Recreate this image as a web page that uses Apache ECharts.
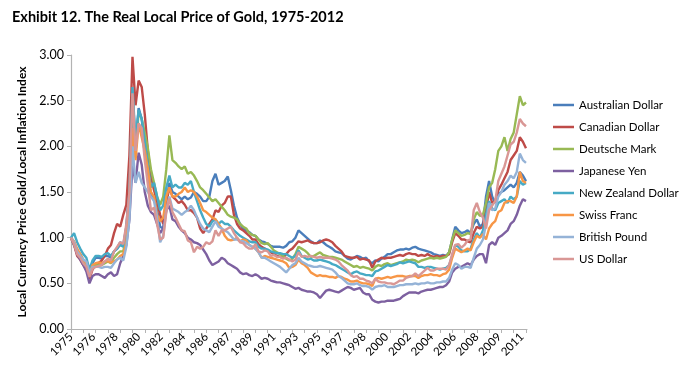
<!DOCTYPE html>
<html><head><meta charset="utf-8">
<script src="https://cdn.jsdelivr.net/npm/echarts@6/dist/echarts.min.js"></script>
<style>html,body{margin:0;padding:0;background:#fff}#c{width:680px;height:387px}</style>
</head><body><div id="c"></div>
<script>
const startYear = 1975;
const monthCount = 446;   // Jan 1975 .. Feb 2012 (monthly categories)
const sampleStep = 3;     // one read value every 3 months
const xTickLabels = ['1975','1976','1978','1980','1982','1984','1986','1987','1989','1991','1993','1995','1997','1998','2000','2002','2004','2006','2008','2009','2011'];
const yTickLabels = ['0.00','0.50','1.00','1.50','2.00','2.50','3.00'];
const seriesNames = ['Australian Dollar','Canadian Dollar','Deutsche Mark','Japanese Yen','New Zealand Dollar','Swiss Franc','British Pound','US Dollar'];

// quarterly readings, 1975 Q1 .. 2012 Q1
const australianDollar = [
1.00,0.95,0.86,0.82, 0.75,0.70,0.60,0.72, 0.78,0.78,0.77,0.80, 0.80,0.78,0.85,0.88, 0.95,0.92,1.12,1.55,
2.62,2.00,2.42,2.30, 2.00,1.70,1.45,1.45, 1.30,1.12,1.10,1.40, 1.60,1.50,1.48,1.45, 1.42,1.45,1.42,1.44,
1.50,1.48,1.45,1.40, 1.40,1.45,1.62,1.70, 1.58,1.60,1.62,1.67, 1.52,1.35,1.22,1.15, 1.10,1.08,1.06,1.03,
1.02,0.98,0.96,0.95, 0.93,0.91,0.90,0.90, 0.90,0.89,0.91,0.95, 0.96,1.00,1.08,1.05, 1.02,0.99,0.96,0.94,
0.94,0.97,0.95,0.92, 0.90,0.88,0.85,0.84, 0.83,0.80,0.77,0.76, 0.78,0.80,0.79,0.77, 0.78,0.74,0.72,0.75,
0.74,0.77,0.79,0.82, 0.82,0.84,0.86,0.87, 0.87,0.88,0.87,0.89, 0.90,0.88,0.87,0.86, 0.85,0.84,0.82,0.81,
0.80,0.81,0.80,0.84, 0.98,1.12,1.08,1.05, 1.06,1.08,1.05,1.15, 1.20,1.12,1.15,1.45, 1.62,1.45,1.38,1.48,
1.50,1.52,1.55,1.58, 1.55,1.60,1.72,1.68, 1.62];
const canadianDollar = [
1.00,0.92,0.80,0.76, 0.70,0.65,0.55,0.65, 0.70,0.72,0.75,0.80, 0.88,0.92,1.05,1.15, 1.12,1.25,1.36,1.90,
2.98,2.45,2.72,2.65, 2.35,1.95,1.68,1.52, 1.40,1.25,1.15,1.38, 1.55,1.45,1.42,1.38, 1.40,1.36,1.30,1.30,
1.27,1.22,1.10,1.05, 1.10,1.15,1.20,1.30, 1.28,1.35,1.38,1.45, 1.45,1.25,1.15,1.10, 1.08,1.05,1.02,0.98,
0.98,0.93,0.90,0.88, 0.86,0.84,0.82,0.80, 0.79,0.78,0.82,0.86, 0.88,0.92,0.96,0.95, 0.96,0.97,0.95,0.94,
0.94,0.95,0.97,0.98, 0.97,0.95,0.91,0.88, 0.85,0.80,0.79,0.78, 0.78,0.79,0.76,0.77, 0.76,0.75,0.67,0.74,
0.76,0.78,0.77,0.78, 0.78,0.79,0.80,0.81, 0.80,0.82,0.83,0.82, 0.82,0.80,0.81,0.80, 0.82,0.80,0.79,0.80,
0.79,0.80,0.80,0.82, 0.95,1.05,1.02,0.98, 0.98,0.96,0.95,1.05, 1.12,1.10,1.12,1.30, 1.50,1.38,1.40,1.52,
1.58,1.65,1.72,1.85, 1.90,1.95,2.10,2.05, 1.98];
const deutscheMark = [
1.00,0.92,0.85,0.80, 0.74,0.70,0.60,0.68, 0.70,0.70,0.70,0.72, 0.74,0.72,0.78,0.82, 0.85,0.85,1.02,1.40,
2.35,1.95,2.38,2.30, 2.15,1.98,1.75,1.60, 1.45,1.36,1.45,1.75, 2.12,1.85,1.82,1.78, 1.75,1.78,1.70,1.72,
1.68,1.62,1.55,1.52, 1.48,1.44,1.40,1.42, 1.38,1.34,1.30,1.25, 1.23,1.22,1.20,1.15, 1.12,1.10,1.05,1.03,
1.02,0.98,0.94,0.93, 0.94,0.90,0.86,0.84, 0.82,0.80,0.77,0.75, 0.77,0.82,0.90,0.88, 0.86,0.83,0.79,0.80,
0.82,0.84,0.81,0.80, 0.79,0.79,0.78,0.77, 0.76,0.74,0.72,0.70, 0.68,0.69,0.67,0.68, 0.67,0.66,0.64,0.68,
0.70,0.69,0.71,0.72, 0.70,0.71,0.72,0.73, 0.74,0.76,0.75,0.76, 0.75,0.73,0.75,0.76, 0.77,0.78,0.77,0.78,
0.77,0.78,0.79,0.84, 0.98,1.08,1.05,1.02, 1.03,1.05,1.04,1.20, 1.28,1.24,1.25,1.38, 1.55,1.60,1.75,1.95,
2.00,2.10,1.95,2.08, 2.15,2.35,2.55,2.45, 2.48];
const japaneseYen = [
1.00,0.92,0.82,0.76, 0.70,0.63,0.50,0.58, 0.60,0.60,0.58,0.56, 0.60,0.62,0.58,0.60, 0.72,0.80,0.92,1.20,
1.80,1.60,1.93,1.80, 1.50,1.35,1.28,1.25, 1.15,1.05,1.10,1.30, 1.35,1.20,1.18,1.12, 1.08,1.05,1.00,0.98,
0.95,0.94,0.92,0.87, 0.82,0.75,0.70,0.72, 0.74,0.78,0.76,0.72, 0.70,0.68,0.66,0.62, 0.60,0.61,0.59,0.58,
0.60,0.58,0.55,0.56, 0.55,0.53,0.52,0.51, 0.51,0.50,0.49,0.48, 0.46,0.44,0.45,0.43, 0.42,0.41,0.41,0.40,
0.38,0.34,0.38,0.42, 0.43,0.42,0.41,0.40, 0.42,0.44,0.46,0.45, 0.43,0.44,0.45,0.40, 0.38,0.38,0.32,0.30,
0.29,0.30,0.30,0.31, 0.31,0.31,0.32,0.33, 0.36,0.38,0.40,0.40, 0.40,0.39,0.41,0.42, 0.43,0.43,0.44,0.45,
0.46,0.46,0.48,0.52, 0.62,0.66,0.68,0.68, 0.70,0.72,0.70,0.76, 0.80,0.82,0.82,0.72, 0.92,0.95,0.92,1.00,
1.02,1.05,1.08,1.15, 1.18,1.25,1.35,1.42, 1.40];
const newZealandDollar = [
1.00,1.05,0.95,0.88, 0.82,0.78,0.65,0.75, 0.80,0.80,0.79,0.82, 0.83,0.80,0.85,0.88, 0.92,0.90,1.10,1.50,
2.65,2.05,2.40,2.30, 2.05,1.80,1.55,1.60, 1.45,1.30,1.35,1.55, 1.68,1.55,1.58,1.55, 1.55,1.60,1.58,1.62,
1.50,1.40,1.30,1.22, 1.15,1.12,1.18,1.20, 1.15,1.18,1.15,1.15, 1.12,1.08,1.05,1.02, 1.00,0.98,0.96,0.95,
0.95,0.90,0.88,0.88, 0.87,0.85,0.84,0.83, 0.83,0.82,0.82,0.80, 0.78,0.80,0.86,0.80, 0.78,0.76,0.77,0.75,
0.75,0.76,0.75,0.74, 0.73,0.71,0.70,0.68, 0.66,0.64,0.62,0.60, 0.62,0.63,0.61,0.60, 0.59,0.59,0.58,0.63,
0.64,0.66,0.68,0.70, 0.69,0.70,0.71,0.73, 0.72,0.73,0.74,0.73, 0.72,0.68,0.68,0.67, 0.68,0.68,0.67,0.66,
0.65,0.66,0.67,0.70, 0.80,0.92,0.90,0.86, 0.85,0.85,0.88,0.98, 1.05,1.00,1.08,1.25, 1.40,1.32,1.30,1.38,
1.40,1.42,1.38,1.45, 1.42,1.45,1.62,1.58, 1.60];
const swissFranc = [
1.00,0.96,0.88,0.82, 0.76,0.72,0.60,0.70, 0.72,0.73,0.72,0.74, 0.74,0.73,0.74,0.76, 0.80,0.82,0.95,1.35,
2.20,1.85,2.25,2.10, 1.95,1.75,1.50,1.45, 1.25,1.18,1.22,1.45, 1.55,1.45,1.45,1.48, 1.50,1.55,1.50,1.52,
1.50,1.45,1.38,1.30, 1.28,1.25,1.22,1.20, 1.15,1.10,1.02,0.98, 0.97,0.98,1.00,0.96, 0.98,0.97,0.92,0.90,
0.88,0.84,0.78,0.80, 0.79,0.78,0.77,0.76, 0.75,0.74,0.72,0.67, 0.68,0.70,0.76,0.72, 0.70,0.67,0.62,0.60,
0.58,0.59,0.58,0.58, 0.57,0.57,0.56,0.58, 0.57,0.55,0.54,0.52, 0.52,0.53,0.51,0.50, 0.50,0.49,0.47,0.55,
0.56,0.55,0.56,0.57, 0.56,0.57,0.58,0.58, 0.58,0.57,0.58,0.58, 0.58,0.56,0.58,0.59, 0.59,0.60,0.59,0.59,
0.58,0.60,0.61,0.65, 0.78,0.88,0.86,0.84, 0.86,0.88,0.86,0.95, 1.02,1.00,1.04,0.98, 1.10,1.15,1.18,1.28,
1.30,1.38,1.40,1.40, 1.38,1.45,1.72,1.62, 1.60];
const britishPound = [
1.00,0.95,0.85,0.80, 0.76,0.74,0.62,0.68, 0.68,0.68,0.67,0.68, 0.68,0.67,0.72,0.76, 0.78,0.75,0.90,1.20,
2.00,1.60,1.72,1.60, 1.55,1.50,1.45,1.40, 1.22,0.95,1.02,1.30, 1.45,1.32,1.30,1.28, 1.25,1.28,1.30,1.35,
1.30,1.22,1.15,1.10, 1.08,1.06,1.12,1.18, 1.12,1.10,1.08,1.06, 1.02,0.98,0.98,0.96, 0.96,0.94,0.92,0.90,
0.88,0.84,0.78,0.78, 0.76,0.74,0.72,0.70, 0.68,0.65,0.62,0.66, 0.70,0.72,0.78,0.74, 0.72,0.70,0.69,0.68,
0.68,0.69,0.68,0.67, 0.66,0.65,0.62,0.58, 0.56,0.53,0.50,0.49, 0.49,0.50,0.48,0.47, 0.47,0.46,0.43,0.46,
0.47,0.47,0.48,0.46, 0.46,0.46,0.47,0.48, 0.48,0.49,0.49,0.49, 0.50,0.49,0.50,0.50, 0.51,0.50,0.50,0.51,
0.51,0.52,0.52,0.56, 0.65,0.72,0.70,0.66, 0.68,0.68,0.67,0.78, 0.88,0.92,0.98,1.15, 1.38,1.30,1.32,1.45,
1.50,1.58,1.62,1.68, 1.65,1.72,1.92,1.85, 1.82];
const usDollar = [
1.00,0.93,0.82,0.78, 0.72,0.68,0.57,0.66, 0.68,0.69,0.70,0.74, 0.77,0.75,0.85,0.90, 0.95,0.93,1.15,1.50,
2.58,1.95,2.25,2.20, 1.85,1.58,1.30,1.33, 1.15,0.98,1.00,1.28, 1.43,1.28,1.22,1.15, 1.08,1.07,0.97,0.95,
0.84,0.90,0.88,0.90, 0.95,0.93,0.96,1.08, 1.02,1.08,1.08,1.10, 1.12,1.05,1.00,0.95, 0.94,0.90,0.88,0.88,
0.93,0.85,0.84,0.86, 0.85,0.80,0.81,0.79, 0.79,0.77,0.78,0.76, 0.74,0.76,0.84,0.79, 0.80,0.79,0.80,0.79,
0.78,0.79,0.78,0.78, 0.78,0.77,0.76,0.74, 0.70,0.67,0.64,0.59, 0.57,0.58,0.55,0.55, 0.53,0.52,0.50,0.55,
0.52,0.51,0.51,0.50, 0.50,0.49,0.51,0.53, 0.53,0.56,0.57,0.58, 0.61,0.58,0.61,0.64, 0.67,0.64,0.64,0.66,
0.66,0.66,0.65,0.70, 0.82,0.92,0.93,0.89, 0.92,0.97,0.98,1.30, 1.38,1.28,1.22,1.10, 1.30,1.35,1.40,1.62,
1.70,1.78,1.90,2.02, 2.05,2.15,2.30,2.25, 2.22];

const seriesValues = [australianDollar, canadianDollar, deutscheMark, japaneseYen, newZealandDollar, swissFranc, britishPound, usDollar];
const seriesColors = ['#4A7EBB','#BE4B48','#98B954','#7D60A0','#46AAC5','#F79646','#95B3D7','#D99795'];

const categories = [];
for (let m = 0; m < monthCount; m++) {
  categories.push((startYear + Math.floor(m / 12)) + '-' + String(m % 12 + 1).padStart(2, '0'));
}
function toMonthly(vals) {
  const out = new Array(monthCount).fill(null);
  vals.forEach((v, i) => { out[i * sampleStep] = v; });
  return out;
}

const chart = echarts.init(document.getElementById('c'), null, {renderer: 'canvas'});
const FONT = 'Lato, "Open Sans", sans-serif';
chart.setOption({
  animation: false,
  backgroundColor: '#ffffff',
  textStyle: {fontFamily: FONT},
  title: {
    text: 'Exhibit 12. The Real Local Price of Gold, 1975-2012',
    left: 7, top: 5,
    textStyle: {fontFamily: FONT, fontSize: 14.5, fontWeight: 'bold', color: '#000'}
  },
  legend: {
    orient: 'vertical', left: 553, top: 98, padding: 0,
    itemWidth: 21, itemHeight: 14, itemGap: 8,
    icon: 'path://M0,6 L21,6 L21,8.5 L0,8.5 Z',
    textStyle: {fontFamily: FONT, fontSize: 11.5, color: '#000', lineHeight: 14, height: 14},
    data: seriesNames
  },
  grid: {left: 71, right: 153, top: 55, bottom: 58, containLabel: false},
  xAxis: {
    type: 'category', data: categories, boundaryGap: false,
    axisLine: {lineStyle: {color: '#b3b3b3', width: 1.2}},
    axisTick: {interval: 11, length: 4, lineStyle: {color: '#b3b3b3'}},
    axisLabel: {
      interval: 21, rotate: 45, fontSize: 11.5, color: '#000', fontFamily: FONT, margin: 6,
      formatter: (v, i) => xTickLabels[Math.round(i / 22)] || ''
    },
    splitLine: {show: false}
  },
  yAxis: {
    type: 'value', min: 0, max: 3, interval: 0.5,
    name: 'Local Currency Price Gold/Local Inflation Index',
    nameLocation: 'middle', nameGap: 38, nameRotate: 90,
    nameTextStyle: {fontFamily: FONT, fontSize: 12, fontWeight: 'bold', color: '#000'},
    axisLine: {show: true, lineStyle: {color: '#b3b3b3', width: 1.2}},
    axisTick: {show: true, length: 4, lineStyle: {color: '#b3b3b3'}},
    axisLabel: {fontSize: 12.5, color: '#000', fontFamily: FONT, margin: 7,
      formatter: v => yTickLabels[Math.round(v / 0.5)]},
    splitLine: {show: false}
  },
  series: seriesNames.map((name, i) => ({
    name, type: 'line', data: toMonthly(seriesValues[i]),
    connectNulls: true, symbol: 'none', smooth: false,
    color: seriesColors[i],
    lineStyle: {width: 2.4, color: seriesColors[i]},
    itemStyle: {color: seriesColors[i]}
  }))
});
</script></body></html>
